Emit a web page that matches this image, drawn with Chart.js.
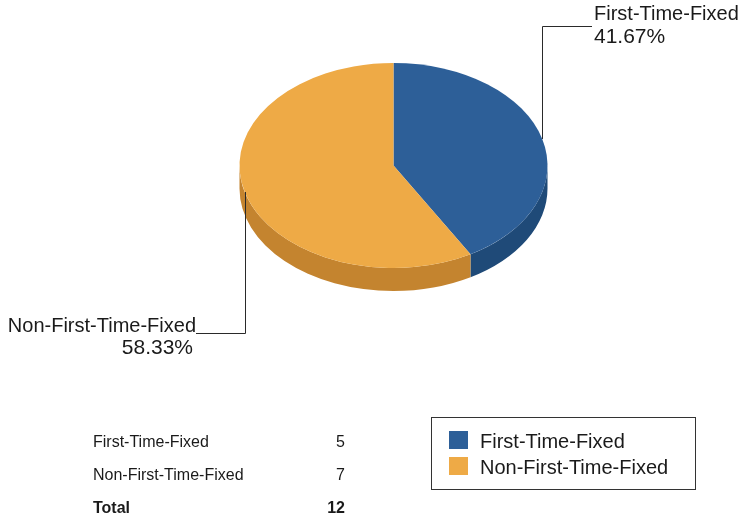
<!DOCTYPE html>
<html>
<head>
<meta charset="utf-8">
<script src="https://cdn.jsdelivr.net/npm/chart.js@4.4.1/dist/chart.umd.min.js"></script>
<style>
  html,body{margin:0;padding:0;background:#fff;}
  #wrap{width:740px;height:514px;position:relative;}
</style>
</head>
<body>
<div id="wrap"><canvas id="c" width="740" height="514"></canvas></div>
<script>
// ---- data ----
const categories = ['First-Time-Fixed', 'Non-First-Time-Fixed'];
const counts = [5, 7];
const totalLabel = 'Total';

// ---- styles ----
const topColors = ['#2D5F98', '#EEAA46'];
const sideColors = ['#1F4A78', '#C4842F'];
const TILT = 102.5 / 154;   // vertical squash of the pie
const DEPTH = 23;           // thickness of the pie
const FONT = '"Liberation Sans", Arial, Helvetica, sans-serif';

const total = counts.reduce((a, b) => a + b, 0);

const pie3d = {
  id: 'pie3d',
  beforeDatasetsDraw(chart) {
    const ctx = chart.ctx;
    const meta = chart.getDatasetMeta(0);
    const a0 = meta.data[0];
    const cx = a0.x, cy = a0.y, r = a0.outerRadius, ry = r * TILT;
    // side walls (front half only)
    meta.data.forEach((arc, i) => {
      const s = arc.startAngle, e = arc.endAngle;
      [-2 * Math.PI, 0, 2 * Math.PI].forEach(off => {
        const lo = Math.max(s, off), hi = Math.min(e, Math.PI + off);
        if (hi > lo) {
          ctx.beginPath();
          ctx.ellipse(cx, cy, r, ry, 0, lo, hi, false);
          ctx.ellipse(cx, cy + DEPTH, r, ry, 0, hi, lo, true);
          ctx.closePath();
          ctx.fillStyle = sideColors[i];
          ctx.fill();
        }
      });
    });
    ctx.save();
    ctx.translate(0, cy);
    ctx.scale(1, TILT);
    ctx.translate(0, -cy);
  },
  afterDatasetsDraw(chart) {
    const ctx = chart.ctx;
    ctx.restore();
    const meta = chart.getDatasetMeta(0);
    const pts = meta.data.map(arc => {
      const m = (arc.startAngle + arc.endAngle) / 2;
      return {x: arc.x + arc.outerRadius * Math.cos(m), y: arc.y + arc.outerRadius * TILT * Math.sin(m)};
    });
    const pct = counts.map(v => (v / total * 100).toFixed(2) + '%');

    ctx.save();
    ctx.strokeStyle = '#2a2a2a';
    ctx.lineWidth = 1;
    // leader line slice 0 (up and right)
    ctx.beginPath();
    ctx.moveTo(Math.round(pts[0].x) + 0.5, pts[0].y);
    ctx.lineTo(Math.round(pts[0].x) + 0.5, 26.5);
    ctx.lineTo(592, 26.5);
    ctx.stroke();
    // leader line slice 1 (down and left)
    ctx.beginPath();
    ctx.moveTo(Math.round(pts[1].x) + 0.5, pts[1].y);
    ctx.lineTo(Math.round(pts[1].x) + 0.5, 333.5);
    ctx.lineTo(196, 333.5);
    ctx.stroke();

    ctx.fillStyle = '#1a1a1a';
    ctx.textBaseline = 'alphabetic';
    ctx.font = '20px ' + FONT;
    ctx.textAlign = 'left';
    ctx.fillText(categories[0], 594, 20);
    ctx.font = '21px ' + FONT;
    ctx.fillText(pct[0], 594, 43);
    ctx.textAlign = 'right';
    ctx.font = '20px ' + FONT;
    ctx.fillText(categories[1], 196, 332);
    ctx.font = '21px ' + FONT;
    ctx.fillText(pct[1], 193, 354);

    // table
    ctx.font = '16px ' + FONT;
    const rowsY = [447, 480];
    categories.forEach((c, i) => {
      ctx.textAlign = 'left';
      ctx.fillText(c, 93, rowsY[i]);
      ctx.textAlign = 'right';
      ctx.fillText(String(counts[i]), 345, rowsY[i]);
    });
    ctx.font = 'bold 16px ' + FONT;
    ctx.textAlign = 'left';
    ctx.fillText(totalLabel, 93, 513);
    ctx.textAlign = 'right';
    ctx.fillText(String(total), 345, 513);

    // legend box
    ctx.strokeStyle = '#333';
    ctx.strokeRect(431.5, 417.5, 264, 72);
    ctx.font = '20px ' + FONT;
    ctx.textAlign = 'left';
    const legY = [431, 457];
    categories.forEach((c, i) => {
      ctx.fillStyle = topColors[i];
      ctx.fillRect(449, legY[i], 19, 18);
      ctx.fillStyle = '#1a1a1a';
      ctx.fillText(c, 480, legY[i] + 17);
    });
    ctx.restore();
  }
};

new Chart(document.getElementById('c'), {
  type: 'pie',
  data: {
    labels: categories,
    datasets: [{
      data: counts,
      backgroundColor: topColors,
      borderWidth: 0,
      hoverOffset: 0
    }]
  },
  options: {
    responsive: false,
    animation: false,
    events: [],
    layout: {padding: {left: 239.5, right: 192.5, top: 11.5, bottom: 194.5}},
    plugins: {legend: {display: false}, tooltip: {enabled: false}}
  },
  plugins: [pie3d]
});
</script>
</body>
</html>
